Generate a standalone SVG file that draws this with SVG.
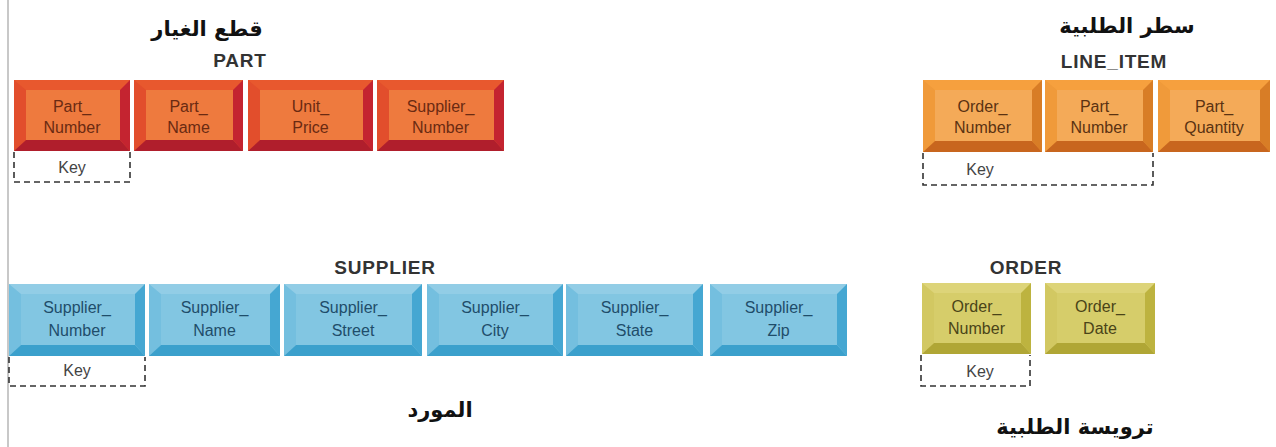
<svg xmlns="http://www.w3.org/2000/svg" width="1276" height="447" viewBox="0 0 1276 447">
<style>
.nt{font-family:"Liberation Sans",Arial,sans-serif;font-size:16px;text-anchor:middle}
.hd{font-family:"Liberation Sans",Arial,sans-serif;font-size:19px;font-weight:bold;text-anchor:middle;fill:#333;letter-spacing:0.8px}
.ar{font-family:"DejaVu Sans","Noto Sans",sans-serif;font-size:21px;font-weight:bold;text-anchor:middle;fill:#111}
.key{fill:none;stroke:#333;stroke-width:1.6;stroke-dasharray:6 4}
.kt{font-family:"Liberation Sans",Arial,sans-serif;font-size:16px;fill:#444;text-anchor:middle}
.part .t{fill:#e8582e}.part .l{fill:#e24e2c}.part .f{fill:#ee7a3e}.part .r{fill:#c42430}.part .b{fill:#b01e2c}.part text{fill:#6a2a12}
.line .t{fill:#f6a03e}.line .l{fill:#f09a3a}.line .f{fill:#f4aa58}.line .r{fill:#d87d26}.line .b{fill:#c8661e}.line text{fill:#5a3212}
.sup .t{fill:#92cde6}.sup .l{fill:#74bfdf}.sup .f{fill:#82c6e2}.sup .r{fill:#45a7d2}.sup .b{fill:#3ba0cc}.sup text{fill:#1f4d6a}
.ord .t{fill:#ddd479}.ord .l{fill:#d2c862}.ord .f{fill:#d6cd6a}.ord .r{fill:#bdb33f}.ord .b{fill:#b0a635}.ord text{fill:#4a4418}
</style>
<rect width="1276" height="447" fill="#fff"/>
<line x1="8" y1="0" x2="8" y2="447" stroke="#c8c8c8" stroke-width="2"/>

<!-- Titles -->
<text class="ar" x="207" y="36">قطع الغيار</text>
<text class="hd" x="240" y="67">PART</text>
<text class="ar" x="1127" y="33">سطر الطلبية</text>
<text class="hd" x="1114" y="68">LINE_ITEM</text>
<text class="hd" x="385" y="274">SUPPLIER</text>
<text class="ar" x="440" y="417">المورد</text>
<text class="hd" x="1026" y="274">ORDER</text>
<text class="ar" x="1075" y="434">ترويسة الطلبية</text>

<!-- PART -->
<g id="part-part-number" class="part">
<rect class="t" x="14" y="80" width="116" height="71"/>
<polygon class="l" points="14,80 26,90 26,140 14,151"/>
<polygon class="r" points="130,80 130,151 120,140 120,90"/>
<polygon class="b" points="14,151 130,151 120,140 26,140"/>
<rect class="f" x="26" y="90" width="94" height="50"/>
<text class="nt" x="72" y="112">Part_</text><text class="nt" x="72" y="133">Number</text>
</g>
<g id="part-part-name" class="part">
<rect class="t" x="134" y="80" width="109" height="71"/>
<polygon class="l" points="134,80 146,90 146,140 134,151"/>
<polygon class="r" points="243,80 243,151 233,140 233,90"/>
<polygon class="b" points="134,151 243,151 233,140 146,140"/>
<rect class="f" x="146" y="90" width="87" height="50"/>
<text class="nt" x="188.5" y="112">Part_</text><text class="nt" x="188.5" y="133">Name</text>
</g>
<g id="part-unit-price" class="part">
<rect class="t" x="248" y="80" width="125" height="71"/>
<polygon class="l" points="248,80 260,90 260,140 248,151"/>
<polygon class="r" points="373,80 373,151 363,140 363,90"/>
<polygon class="b" points="248,151 373,151 363,140 260,140"/>
<rect class="f" x="260" y="90" width="103" height="50"/>
<text class="nt" x="310.5" y="112">Unit_</text><text class="nt" x="310.5" y="133">Price</text>
</g>
<g id="part-supplier-number" class="part">
<rect class="t" x="377" y="80" width="127" height="71"/>
<polygon class="l" points="377,80 389,90 389,140 377,151"/>
<polygon class="r" points="504,80 504,151 494,140 494,90"/>
<polygon class="b" points="377,151 504,151 494,140 389,140"/>
<rect class="f" x="389" y="90" width="105" height="50"/>
<text class="nt" x="440.5" y="112">Supplier_</text><text class="nt" x="440.5" y="133">Number</text>
</g>
<g id="part-key">
<path class="key" d="M14,152 V182 H130 V152"/>
<text class="kt" x="72" y="173">Key</text>
</g>

<!-- LINE_ITEM -->
<g id="line-order-number" class="line">
<rect class="t" x="923" y="80" width="119" height="72"/>
<polygon class="l" points="923,80 935,90 935,141 923,152"/>
<polygon class="r" points="1042,80 1042,152 1032,141 1032,90"/>
<polygon class="b" points="923,152 1042,152 1032,141 935,141"/>
<rect class="f" x="935" y="90" width="97" height="51"/>
<text class="nt" x="982.5" y="112">Order_</text><text class="nt" x="982.5" y="133">Number</text>
</g>
<g id="line-part-number" class="line">
<rect class="t" x="1045" y="80" width="108" height="72"/>
<polygon class="l" points="1045,80 1057,90 1057,141 1045,152"/>
<polygon class="r" points="1153,80 1153,152 1143,141 1143,90"/>
<polygon class="b" points="1045,152 1153,152 1143,141 1057,141"/>
<rect class="f" x="1057" y="90" width="86" height="51"/>
<text class="nt" x="1099" y="112">Part_</text><text class="nt" x="1099" y="133">Number</text>
</g>
<g id="line-part-quantity" class="line">
<rect class="t" x="1158" y="80" width="112" height="72"/>
<polygon class="l" points="1158,80 1170,90 1170,141 1158,152"/>
<polygon class="r" points="1270,80 1270,152 1260,141 1260,90"/>
<polygon class="b" points="1158,152 1270,152 1260,141 1170,141"/>
<rect class="f" x="1170" y="90" width="90" height="51"/>
<text class="nt" x="1214" y="112">Part_</text><text class="nt" x="1214" y="133">Quantity</text>
</g>
<g id="line-key">
<path class="key" d="M923,153 V185 H1153 V153"/>
<text class="kt" x="980" y="175">Key</text>
</g>

<!-- SUPPLIER -->
<g id="sup-number" class="sup">
<rect class="t" x="9" y="284" width="136" height="72"/>
<polygon class="l" points="9,284 21,294 21,345 9,356"/>
<polygon class="r" points="145,284 145,356 135,345 135,294"/>
<polygon class="b" points="9,356 145,356 135,345 21,345"/>
<rect class="f" x="21" y="294" width="114" height="51"/>
<text class="nt" x="77" y="313">Supplier_</text><text class="nt" x="77" y="336">Number</text>
</g>
<g id="sup-name" class="sup">
<rect class="t" x="149" y="284" width="131" height="72"/>
<polygon class="l" points="149,284 161,294 161,345 149,356"/>
<polygon class="r" points="280,284 280,356 270,345 270,294"/>
<polygon class="b" points="149,356 280,356 270,345 161,345"/>
<rect class="f" x="161" y="294" width="109" height="51"/>
<text class="nt" x="214.5" y="313">Supplier_</text><text class="nt" x="214.5" y="336">Name</text>
</g>
<g id="sup-street" class="sup">
<rect class="t" x="284" y="284" width="138" height="72"/>
<polygon class="l" points="284,284 296,294 296,345 284,356"/>
<polygon class="r" points="422,284 422,356 412,345 412,294"/>
<polygon class="b" points="284,356 422,356 412,345 296,345"/>
<rect class="f" x="296" y="294" width="116" height="51"/>
<text class="nt" x="353" y="313">Supplier_</text><text class="nt" x="353" y="336">Street</text>
</g>
<g id="sup-city" class="sup">
<rect class="t" x="427" y="284" width="136" height="72"/>
<polygon class="l" points="427,284 439,294 439,345 427,356"/>
<polygon class="r" points="563,284 563,356 553,345 553,294"/>
<polygon class="b" points="427,356 563,356 553,345 439,345"/>
<rect class="f" x="439" y="294" width="114" height="51"/>
<text class="nt" x="495" y="313">Supplier_</text><text class="nt" x="495" y="336">City</text>
</g>
<g id="sup-state" class="sup">
<rect class="t" x="566" y="284" width="137" height="72"/>
<polygon class="l" points="566,284 578,294 578,345 566,356"/>
<polygon class="r" points="703,284 703,356 693,345 693,294"/>
<polygon class="b" points="566,356 703,356 693,345 578,345"/>
<rect class="f" x="578" y="294" width="115" height="51"/>
<text class="nt" x="634.5" y="313">Supplier_</text><text class="nt" x="634.5" y="336">State</text>
</g>
<g id="sup-zip" class="sup">
<rect class="t" x="710" y="284" width="137" height="72"/>
<polygon class="l" points="710,284 722,294 722,345 710,356"/>
<polygon class="r" points="847,284 847,356 837,345 837,294"/>
<polygon class="b" points="710,356 847,356 837,345 722,345"/>
<rect class="f" x="722" y="294" width="115" height="51"/>
<text class="nt" x="778.5" y="313">Supplier_</text><text class="nt" x="778.5" y="336">Zip</text>
</g>
<g id="sup-key">
<path class="key" d="M9,357 V386 H145 V357"/>
<text class="kt" x="77" y="376">Key</text>
</g>

<!-- ORDER -->
<g id="ord-number" class="ord">
<rect class="t" x="922" y="283" width="109" height="71"/>
<polygon class="l" points="922,283 934,293 934,343 922,354"/>
<polygon class="r" points="1031,283 1031,354 1021,343 1021,293"/>
<polygon class="b" points="922,354 1031,354 1021,343 934,343"/>
<rect class="f" x="934" y="293" width="87" height="50"/>
<text class="nt" x="976.5" y="312">Order_</text><text class="nt" x="976.5" y="334">Number</text>
</g>
<g id="ord-date" class="ord">
<rect class="t" x="1045" y="283" width="110" height="71"/>
<polygon class="l" points="1045,283 1057,293 1057,343 1045,354"/>
<polygon class="r" points="1155,283 1155,354 1145,343 1145,293"/>
<polygon class="b" points="1045,354 1155,354 1145,343 1057,343"/>
<rect class="f" x="1057" y="293" width="88" height="50"/>
<text class="nt" x="1100" y="312">Order_</text><text class="nt" x="1100" y="334">Date</text>
</g>
<g id="ord-key">
<path class="key" d="M921,355 V386 H1030 V355"/>
<text class="kt" x="980" y="377">Key</text>
</g>
</svg>
